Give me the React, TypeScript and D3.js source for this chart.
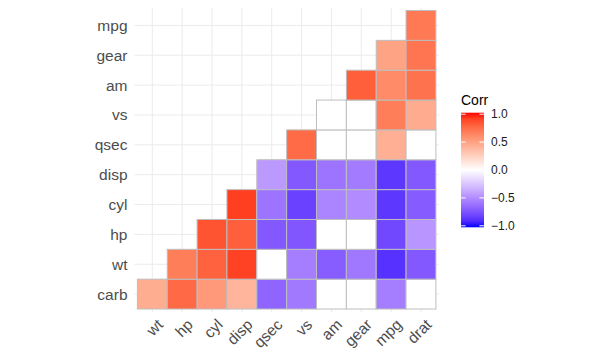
import React, { useEffect, useRef } from "react";
import * as d3 from "d3";

// variables on the x axis (left to right) and y axis (bottom to top)
const xVars = ["wt", "hp", "cyl", "disp", "qsec", "vs", "am", "gear", "mpg", "drat"];
const yVars = ["carb", "wt", "hp", "cyl", "disp", "qsec", "vs", "am", "gear", "mpg"];

// each row starts at the x column with the same index as the row (lower triangle)
// null = not significant, drawn blank
const carbRow = [0.43, 0.75, 0.53, 0.39, -0.66, -0.57, null, null, -0.55, null];
const wtRow = [0.66, 0.78, 0.89, null, -0.55, -0.69, -0.58, -0.87, -0.71];
const hpRow = [0.83, 0.79, -0.71, -0.72, null, null, -0.78, -0.45];
const cylRow = [0.9, -0.59, -0.81, -0.52, -0.49, -0.85, -0.7];
const dispRow = [-0.43, -0.71, -0.59, -0.56, -0.85, -0.71];
const qsecRow = [0.74, null, null, 0.42, null];
const vsRow = [null, null, 0.66, 0.44];
const amRow = [0.79, 0.6, 0.71];
const gearRow = [0.48, 0.7];
const mpgRow = [0.68];

const rows = [carbRow, wtRow, hpRow, cylRow, dispRow, qsecRow, vsRow, amRow, gearRow, mpgRow];
const legendTicks = [1, 0.5, 0, -0.5, -1];

const W = 614;
const H = 361;

const App = () => {
  const svgRef = useRef<SVGSVGElement>(null);

  useEffect(() => {
    const svg = d3.select(svgRef.current);
    svg.selectAll("*").remove();

    const font = "'Liberation Sans', Arial, sans-serif";

    // build the cells
    const cells: { x: string; y: string; v: number | null }[] = [];
    rows.forEach((row, r) => {
      row.forEach((v, i) => {
        cells.push({ x: xVars[r + i], y: yVars[r], v: v });
      });
    });

    const x = d3.scalePoint().domain(xVars).range([134.4, 438.9]).padding(0.6);
    const y = d3.scalePoint().domain(yVars).range([312, 7.5]).padding(0.6);
    const step = x.step();

    const color = d3
      .scaleLinear<string>()
      .domain([-1, 0, 1])
      .range(["blue", "white", "red"])
      .interpolate(d3.interpolateLab);

    // grid lines
    const grid = svg.append("g").attr("stroke", "#ebebeb").attr("stroke-width", 1);
    xVars.forEach((d) => {
      grid.append("line")
        .attr("x1", x(d)).attr("x2", x(d))
        .attr("y1", 7.5).attr("y2", 312);
    });
    yVars.forEach((d) => {
      grid.append("line")
        .attr("x1", 134.4).attr("x2", 438.9)
        .attr("y1", y(d)).attr("y2", y(d));
    });

    // tiles
    svg.append("g")
      .selectAll("rect")
      .data(cells)
      .enter()
      .append("rect")
      .attr("x", (d) => x(d.x)! - step / 2)
      .attr("y", (d) => y(d.y)! - step / 2)
      .attr("width", step)
      .attr("height", step)
      .attr("fill", (d) => (d.v === null ? "white" : color(d.v)))
      .attr("stroke", "#bebebe")
      .attr("stroke-width", 1);

    // y axis labels
    svg.append("g")
      .selectAll("text")
      .data(yVars)
      .enter()
      .append("text")
      .attr("x", 127.5)
      .attr("y", (d) => y(d)!)
      .attr("dy", "0.35em")
      .attr("text-anchor", "end")
      .attr("font-family", font)
      .attr("font-size", 15.5)
      .attr("fill", "#4d4d4d")
      .text((d) => d);

    // x axis labels, rotated 45
    svg.append("g")
      .selectAll("text")
      .data(xVars)
      .enter()
      .append("text")
      .attr("transform", (d) => `translate(${x(d)! + 4},${318}) rotate(-45)`)
      .attr("text-anchor", "end")
      .attr("dy", "0.7em")
      .attr("font-family", font)
      .attr("font-size", 15.5)
      .attr("fill", "#4d4d4d")
      .text((d) => d);

    // legend
    const lg = svg.append("g");
    lg.append("text")
      .attr("x", 461)
      .attr("y", 105)
      .attr("font-family", font)
      .attr("font-size", 14)
      .attr("fill", "black")
      .text("Corr");

    const barTop = 112.7;
    const barBottom = 227.3;
    const defs = svg.append("defs");
    const grad = defs.append("linearGradient")
      .attr("id", "corrGrad")
      .attr("x1", 0).attr("y1", 1).attr("x2", 0).attr("y2", 0);
    d3.range(0, 21).forEach((i) => {
      const t = i / 20;
      grad.append("stop")
        .attr("offset", t)
        .attr("stop-color", color(-1 + 2 * t));
    });
    lg.append("rect")
      .attr("x", 461)
      .attr("y", barTop)
      .attr("width", 23)
      .attr("height", barBottom - barTop)
      .attr("fill", "url(#corrGrad)");

    const ly = d3.scaleLinear().domain([-1, 1]).range([225.8, 114.2]);
    legendTicks.forEach((t) => {
      lg.append("line")
        .attr("x1", 461).attr("x2", 465.6)
        .attr("y1", ly(t)).attr("y2", ly(t))
        .attr("stroke", "white").attr("stroke-width", 1);
      lg.append("line")
        .attr("x1", 479.4).attr("x2", 484)
        .attr("y1", ly(t)).attr("y2", ly(t))
        .attr("stroke", "white").attr("stroke-width", 1);
      lg.append("text")
        .attr("x", 491)
        .attr("y", ly(t))
        .attr("dy", "0.35em")
        .attr("font-family", font)
        .attr("font-size", 12)
        .attr("fill", "#1a1a1a")
        .text(d3.format(".1f")(t));
    });
  }, []);

  return (
    <div>
      <svg
        ref={svgRef}
        width={W}
        height={H}
        style={{ position: "absolute", left: 0, top: 0, background: "white" }}
      ></svg>
    </div>
  );
};

export default App;
